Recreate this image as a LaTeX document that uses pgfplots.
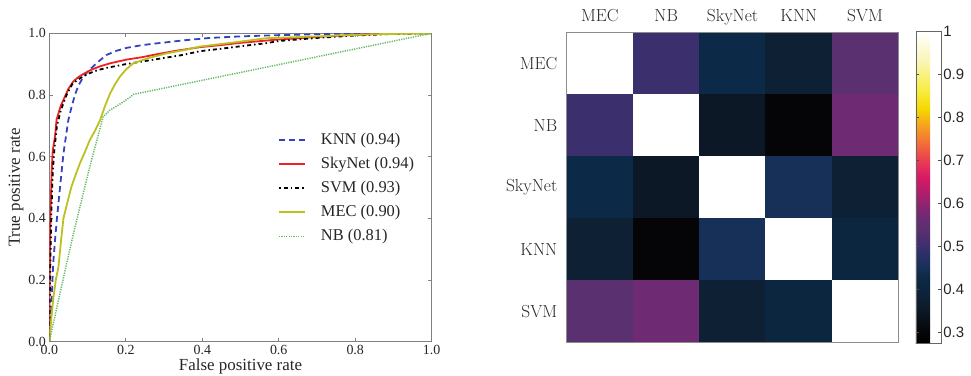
\documentclass[border=0pt]{standalone}
\usepackage{fontspec}
\newfontfamily\timesf{Liberation Serif}
\newfontfamily\arialf{Liberation Sans}
\usepackage{pgfplots}
\pgfplotsset{compat=1.18}
\definecolor{knnblue}{RGB}{52,68,190}
\definecolor{skyred}{RGB}{238,34,34}
\definecolor{mecyel}{RGB}{188,192,32}
\definecolor{nbgreen}{RGB}{100,185,100}
\begin{document}
\begin{tikzpicture}
\useasboundingbox (0,0) rectangle (971bp,376bp);
\begin{axis}[
 at={(49.3bp,34.3bp)}, anchor=south west,
 scale only axis, width=382.4bp, height=308.4bp,
 xmin=0, xmax=1, ymin=0, ymax=1,
 xtick={0,0.2,0.4,0.6,0.8,1}, ytick={0,0.2,0.4,0.6,0.8,1},
 xticklabels={0.0,0.2,0.4,0.6,0.8,1.0},
 yticklabels={0.0,0.2,0.4,0.6,0.8,1.0},
 tick align=inside, major tick length=4bp,
 axis line style={black!50, line width=0.8bp}, tick style={black!50, line width=0.6bp},
 tick label style={font=\timesf\fontsize{14}{14}\selectfont, text=black!85},
 xlabel={False positive rate}, ylabel={True positive rate},
 label style={font=\timesf\fontsize{17}{17}\selectfont, text=black!85},
 xlabel style={yshift=3bp}, ylabel style={yshift=-2bp},
 legend cell align=left,
 legend style={draw=none, fill=none, inner sep=0pt, at={(0.598,0.683)}, anchor=north west,
   font=\timesf\fontsize{16.5}{16.5}\selectfont, row sep=6bp,
   nodes={inner sep=1bp, text height=12bp, text depth=4bp, text=black!85}},
 legend image code/.code={\draw[#1] (0bp,0bp) -- (26bp,0bp); \path (0bp,0bp) (40bp,0bp);},
]
\addplot[knnblue, line width=1.8bp, dash pattern=on 6bp off 4bp] coordinates {
(0,0) (0.005,0.1) (0.01,0.25) (0.015,0.33) (0.02,0.40) (0.028,0.5) (0.037,0.61) (0.044,0.67)
(0.05,0.72) (0.058,0.76) (0.067,0.80) (0.076,0.83) (0.085,0.85) (0.1,0.875) (0.115,0.893)
(0.13,0.91) (0.15,0.93) (0.175,0.943) (0.203,0.953) (0.235,0.96) (0.264,0.965) (0.3,0.97)
(0.35,0.977) (0.42,0.985) (0.5,0.99) (0.6,0.994) (0.7,0.997) (0.8,1.0) (1,1)};
\addlegendentry{KNN (0.94)}
\addplot[skyred, line width=1.8bp] coordinates {
(0,0) (0.001,0.2) (0.003,0.4) (0.006,0.55) (0.009,0.62) (0.015,0.666) (0.019,0.72) (0.03,0.765)
(0.041,0.795) (0.05,0.82) (0.063,0.844) (0.075,0.857) (0.089,0.868) (0.11,0.882) (0.133,0.893)
(0.16,0.903) (0.203,0.915) (0.24,0.922) (0.281,0.932) (0.33,0.943) (0.394,0.955) (0.45,0.962)
(0.5,0.969) (0.6,0.98) (0.7,0.988) (0.8,0.995) (0.9,1.0) (1,1)};
\addlegendentry{SkyNet (0.94)}
\addplot[black, line width=1.8bp, dash pattern=on 1.5bp off 3bp on 4bp off 3bp] coordinates {
(0,0) (0.002,0.2) (0.005,0.4) (0.009,0.55) (0.013,0.62) (0.02,0.7) (0.03,0.75) (0.045,0.8)
(0.06,0.835) (0.075,0.85) (0.1,0.868) (0.125,0.88) (0.15,0.888) (0.2,0.9) (0.25,0.91) (0.3,0.92)
(0.35,0.93) (0.394,0.942) (0.45,0.95) (0.5,0.958) (0.568,0.968) (0.6,0.975) (0.7,0.985)
(0.8,0.993) (0.9,0.998) (1,1)};
\addlegendentry{SVM (0.93)}
\addplot[mecyel, line width=1.8bp] coordinates {
(0,0) (0.005,0.07) (0.01,0.135) (0.017,0.2) (0.024,0.243) (0.03,0.32) (0.037,0.4) (0.047,0.45)
(0.058,0.503) (0.07,0.545) (0.08,0.578) (0.093,0.615) (0.106,0.654) (0.12,0.685) (0.133,0.719)
(0.146,0.765) (0.159,0.805) (0.172,0.835) (0.185,0.86) (0.2,0.882) (0.22,0.903) (0.26,0.92)
(0.307,0.935) (0.35,0.945) (0.394,0.957) (0.48,0.97) (0.568,0.984) (0.7,0.99) (0.85,0.997) (1,1)};
\addlegendentry{MEC (0.90)}
\addplot[nbgreen, line width=1.5bp, dash pattern=on 1.2bp off 1.2bp] coordinates {
(0,0) (0.024,0.135) (0.063,0.35) (0.106,0.568) (0.141,0.73) (0.159,0.751) (0.175,0.763)
(0.194,0.778) (0.21,0.792) (0.22,0.802) (1,1)};
\addlegendentry{NB (0.81)}
\end{axis}

\begin{axis}[
 at={(566.7bp,33.7bp)}, anchor=south west,
 scale only axis, width=331.6bp, height=310bp,
 xmin=-0.5, xmax=4.5, ymin=-0.5, ymax=4.5, y dir=reverse,
 xtick={0,1,2,3,4}, ytick={0,1,2,3,4},
 xticklabels={MEC,NB,SkyNet,KNN,SVM}, yticklabels={MEC,NB,SkyNet,KNN,SVM},
 xticklabel pos=right,
 major tick length=0pt,
 axis line style={black!45, line width=1bp},
 tick label style={font=\fontsize{17.5}{17.5}\selectfont, text=black!85},
 xticklabel style={anchor=base, yshift=11bp}, yticklabel style={xshift=-6bp},
 axis on top,
 colormap={heat}{rgb255(275pt)=(0,0,0) rgb255(300pt)=(5,5,8) rgb255(350pt)=(12,24,38)
   rgb255(380pt)=(14,32,52) rgb255(410pt)=(12,38,64) rgb255(430pt)=(12,42,72)
   rgb255(450pt)=(22,48,88) rgb255(480pt)=(40,48,105) rgb255(500pt)=(60,47,110)
   rgb255(540pt)=(90,48,112) rgb255(570pt)=(110,42,114) rgb255(620pt)=(170,30,110)
   rgb255(660pt)=(215,25,100) rgb255(700pt)=(235,60,85) rgb255(740pt)=(242,110,55)
   rgb255(780pt)=(245,160,30) rgb255(820pt)=(245,215,0) rgb255(860pt)=(248,235,60)
   rgb255(930pt)=(250,245,180) rgb255(1000pt)=(255,255,255)},
 point meta min=0.275, point meta max=1,
 colorbar,
 colorbar style={at={(parent axis.north east)}, anchor=north west, xshift=9.1bp, yshift=0.6bp,
   scale only axis, width=25bp, height=311.3bp,
   ytick={0.3,0.4,0.5,0.6,0.7,0.8,0.9,1}, yticklabels={0.3,0.4,0.5,0.6,0.7,0.8,0.9,1},
   ytick pos=both, yticklabel pos=right, tick align=inside, major tick length=3bp,
   tick style={black!70, line width=0.6bp}, axis line style={black!60, line width=0.8bp},
   yticklabel style={font=\arialf\fontsize{15}{15}\selectfont, xshift=-1bp}},
]
\addplot[matrix plot*, mesh/cols=5, point meta=explicit] table[meta=c] {
x y c
0 0 1
1 0 0.50
2 0 0.43
3 0 0.38
4 0 0.54
0 1 0.50
1 1 1
2 1 0.35
3 1 0.30
4 1 0.57
0 2 0.43
1 2 0.35
2 2 1
3 2 0.45
4 2 0.38
0 3 0.38
1 3 0.30
2 3 0.45
3 3 1
4 3 0.41
0 4 0.54
1 4 0.57
2 4 0.38
3 4 0.41
4 4 1
};
\end{axis}
\end{tikzpicture}
\end{document}
